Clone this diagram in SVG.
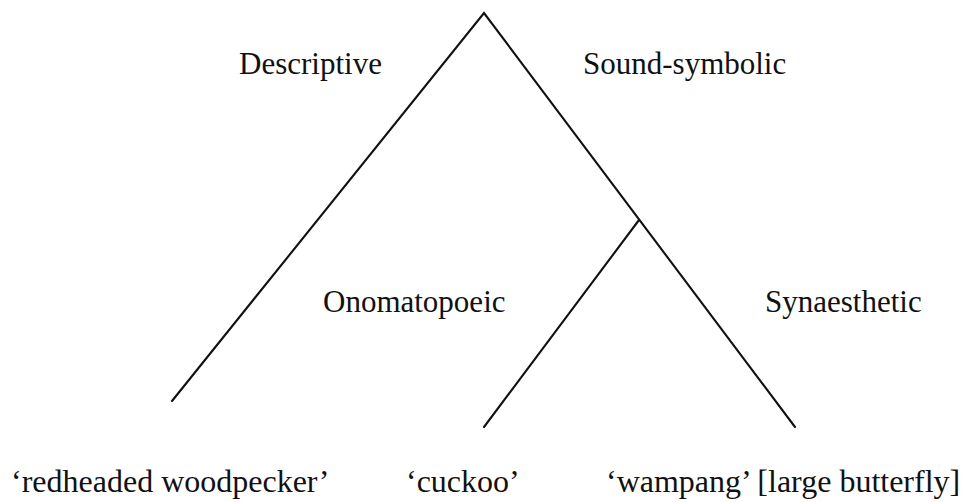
<svg xmlns="http://www.w3.org/2000/svg" width="965" height="502" viewBox="0 0 965 502">
<style>
.l{stroke:#111;stroke-width:2.1;fill:none;stroke-linecap:round;stroke-linejoin:miter}
.t{font-family:"Liberation Serif",serif;font-size:31px;fill:#111}
.b{font-family:"Liberation Serif",serif;font-size:32px;fill:#111}
</style>
<rect width="965" height="502" fill="#fff"/>
<g id="connectors">
<polyline class="l" points="172,401 484,13 795,427"/>
<line class="l" x1="639" y1="220" x2="484" y2="427"/>
</g>
<g id="descriptive"><text class="t" x="239" y="74">Descriptive</text></g>
<g id="sound-symbolic"><text class="t" x="583" y="74">Sound-symbolic</text></g>
<g id="onomatopoeic"><text class="t" x="323" y="312">Onomatopoeic</text></g>
<g id="synaesthetic"><text class="t" x="765" y="312">Synaesthetic</text></g>
<g id="woodpecker"><text class="b" x="11" y="492">‘redheaded woodpecker’</text></g>
<g id="cuckoo"><text class="b" x="406" y="492">‘cuckoo’</text></g>
<g id="wampang"><text class="b" x="606" y="492">‘wampang’ [large butterfly]</text></g>
</svg>
